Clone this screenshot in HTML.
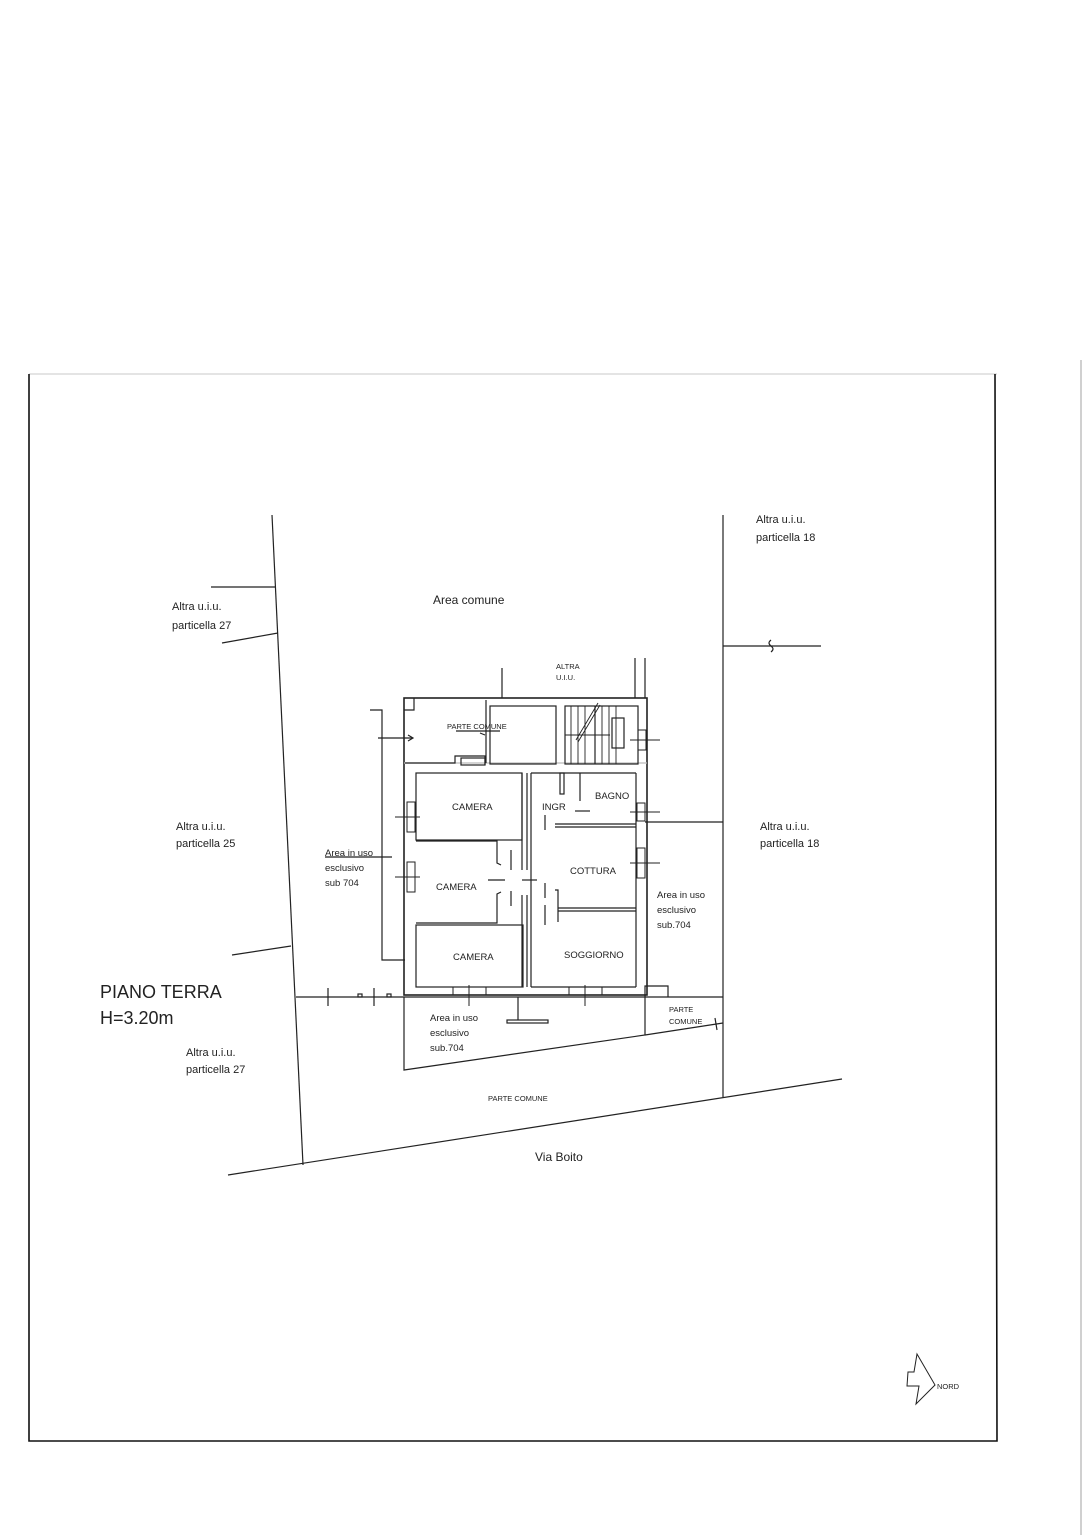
<!DOCTYPE html>
<html><head><meta charset="utf-8"><style>
html,body{margin:0;padding:0;background:#fff;}
svg{display:block;}
text{font-family:"Liberation Sans",sans-serif;fill:#222;}
</style></head><body>
<svg width="1085" height="1535" viewBox="0 0 1085 1535" xmlns="http://www.w3.org/2000/svg">
<rect width="1085" height="1535" fill="#fff"/>
<!-- faint scan edges -->
<line x1="29" y1="374" x2="997" y2="374" stroke="#e4e4e4" stroke-width="2"/>
<line x1="1081" y1="360" x2="1081" y2="1535" stroke="#d0d0d0" stroke-width="2"/>
<!-- page frame -->
<g stroke="#111" stroke-width="1.6" fill="none">
<polyline points="29,374 29,1441 997,1441 995,374"/>
</g>
<g stroke="#222" stroke-width="1.2" fill="none">
<!-- parcel boundaries -->
<line x1="272" y1="515" x2="303" y2="1165"/>
<line x1="723" y1="515" x2="723" y2="1097"/>
<line x1="228" y1="1175" x2="842" y2="1079"/>
<line x1="211" y1="587" x2="275" y2="587"/>
<line x1="222" y1="643" x2="278" y2="633"/>
<line x1="232" y1="955" x2="291" y2="946"/>
<line x1="723" y1="646" x2="821" y2="646"/>
<path d="M771,640 q-4,3 0,6 q4,3 0,6"/>
<line x1="296" y1="997" x2="723" y2="997"/>
<!-- ticks on bottom-left line -->
<line x1="328" y1="988" x2="328" y2="1006"/>
<line x1="374" y1="988" x2="374" y2="1006"/>
<rect x="358" y="994" width="4" height="3"/>
<rect x="387" y="994" width="4" height="3"/>
<!-- bottom exclusive area -->
<polyline points="404,997 404,1070 645,1035 645,997"/>
<line x1="645" y1="1035" x2="723" y2="1023"/>
<line x1="518" y1="997" x2="518" y2="1020"/>
<rect x="507" y="1020" width="41" height="3"/>
<line x1="715" y1="1018" x2="717" y2="1030"/>
<polyline points="645,997 645,986 668,986 668,997"/>
<!-- right exclusive area line -->
<line x1="645" y1="822" x2="723" y2="822"/>
<!-- left annex -->
<polyline points="370,710 382,710 382,960 405,960"/>
<line x1="378" y1="738" x2="412" y2="738"/>
<path d="M408,735 l5,3 l-5,3"/>
<line x1="325" y1="857" x2="392" y2="857"/>
<!-- building outer -->
<rect x="404" y="698" width="243" height="297" stroke-width="1.6"/>
<line x1="404" y1="763" x2="647" y2="763" stroke="#bbb"/>
<line x1="635" y1="658" x2="635" y2="698"/>
<line x1="645" y1="658" x2="645" y2="698"/>
<line x1="502" y1="668" x2="502" y2="698"/>
<!-- top area rooms -->
<polyline points="404,710 414,710 414,698"/>
<polyline points="405,763 455,763 455,756 485,756 485,765"/>
<rect x="461" y="758" width="24" height="7"/>
<rect x="490" y="706" width="66" height="58"/>
<line x1="486" y1="700" x2="486" y2="763"/>
<line x1="456" y1="731" x2="500" y2="731"/>
<line x1="480" y1="733" x2="485" y2="735"/>
<rect x="565" y="706" width="73" height="58"/>
<line x1="595" y1="706" x2="595" y2="764"/>
<g stroke-width="0.9">
<line x1="571" y1="706" x2="571" y2="764"/><line x1="578" y1="706" x2="578" y2="764"/>
<line x1="585" y1="706" x2="585" y2="764"/><line x1="602" y1="706" x2="602" y2="764"/>
<line x1="609" y1="706" x2="609" y2="764"/><line x1="616" y1="706" x2="616" y2="764"/>
<line x1="565" y1="735" x2="610" y2="735"/>
<line x1="576" y1="740" x2="598" y2="703"/>
<line x1="578" y1="742" x2="600" y2="705"/>
</g>
<rect x="612" y="718" width="12" height="30"/>
<!-- left rooms -->
<rect x="416" y="773" width="106" height="67"/>
<polyline points="416,841 497,841 497,863 501,865"/>
<polyline points="416,923 497,923 497,894 501,892"/>
<rect x="416" y="925" width="107" height="62"/>
<line x1="522" y1="773" x2="522" y2="870"/>
<line x1="527" y1="773" x2="527" y2="870"/>
<line x1="522" y1="895" x2="522" y2="987"/>
<line x1="527" y1="895" x2="527" y2="987"/>
<line x1="511" y1="850" x2="511" y2="870"/>
<line x1="511" y1="891" x2="511" y2="906"/>
<line x1="488" y1="880" x2="505" y2="880"/>
<line x1="522" y1="880" x2="537" y2="880"/>
<!-- right rooms -->
<line x1="531" y1="773" x2="531" y2="987"/>
<line x1="531" y1="773" x2="636" y2="773"/>
<line x1="636" y1="773" x2="636" y2="987"/>
<rect x="560" y="773" width="4" height="21"/>
<line x1="580" y1="773" x2="580" y2="801"/>
<line x1="575" y1="811" x2="590" y2="811"/>
<line x1="555" y1="824" x2="636" y2="824"/>
<line x1="555" y1="827" x2="636" y2="827"/>
<line x1="545" y1="815" x2="545" y2="830"/>
<line x1="545" y1="883" x2="545" y2="898"/>
<line x1="545" y1="905" x2="545" y2="925"/>
<polyline points="555,890 558,890 558,922"/>
<line x1="558" y1="908" x2="636" y2="908"/>
<line x1="558" y1="911" x2="636" y2="911"/>
<line x1="531" y1="987" x2="636" y2="987"/>
<!-- windows -->
<g stroke-width="1">
<rect x="407" y="802" width="8" height="30"/><line x1="395" y1="817" x2="420" y2="817"/>
<rect x="407" y="862" width="8" height="30"/><line x1="395" y1="877" x2="420" y2="877"/>
<rect x="637" y="803" width="8" height="18"/><line x1="630" y1="812" x2="660" y2="812"/>
<rect x="637" y="848" width="8" height="30"/><line x1="630" y1="863" x2="660" y2="863"/>
<rect x="638" y="730" width="8" height="20"/><line x1="630" y1="740" x2="660" y2="740"/>
<rect x="453" y="987" width="33" height="8"/><line x1="469" y1="985" x2="469" y2="1006"/>
<rect x="569" y="987" width="33" height="8"/><line x1="585" y1="985" x2="585" y2="1006"/>
</g>
<!-- north arrow -->
<polygon points="917,1354 935,1385 916,1404 919,1386 907,1386 908,1372 914,1372" stroke-width="1"/>
</g>
<!-- labels -->
<g font-size="11">
<text x="172" y="610">Altra u.i.u.</text><text x="172" y="629">particella 27</text>
<text x="756" y="523">Altra u.i.u.</text><text x="756" y="541">particella 18</text>
<text x="433" y="604" font-size="12">Area comune</text>
<text x="176" y="830">Altra u.i.u.</text><text x="176" y="847">particella 25</text>
<text x="760" y="830">Altra u.i.u.</text><text x="760" y="847">particella 18</text>
<text x="186" y="1056">Altra u.i.u.</text><text x="186" y="1073">particella 27</text>
<text x="535" y="1161" font-size="12">Via Boito</text>
</g>
<g font-size="9.5">
<text x="325" y="856">Area in uso</text><text x="325" y="871">esclusivo</text><text x="325" y="886">sub 704</text>
<text x="657" y="898">Area in uso</text><text x="657" y="913">esclusivo</text><text x="657" y="928">sub.704</text>
<text x="430" y="1021">Area in uso</text><text x="430" y="1036">esclusivo</text><text x="430" y="1051">sub.704</text>
<text x="452" y="810">CAMERA</text>
<text x="436" y="890">CAMERA</text>
<text x="453" y="960">CAMERA</text>
<text x="542" y="810">INGR</text>
<text x="595" y="799">BAGNO</text>
<text x="570" y="874">COTTURA</text>
<text x="564" y="958">SOGGIORNO</text>
</g>
<g font-size="7.5">
<text x="556" y="669">ALTRA</text><text x="556" y="680">U.I.U.</text>
<text x="447" y="729">PARTE COMUNE</text>
<text x="669" y="1012">PARTE</text><text x="669" y="1024">COMUNE</text>
<text x="488" y="1101">PARTE COMUNE</text>
<text x="937" y="1389">NORD</text>
</g>
<text x="100" y="998" font-size="18">PIANO TERRA</text>
<text x="100" y="1024" font-size="18">H=3.20m</text>
</svg>
</body></html>
